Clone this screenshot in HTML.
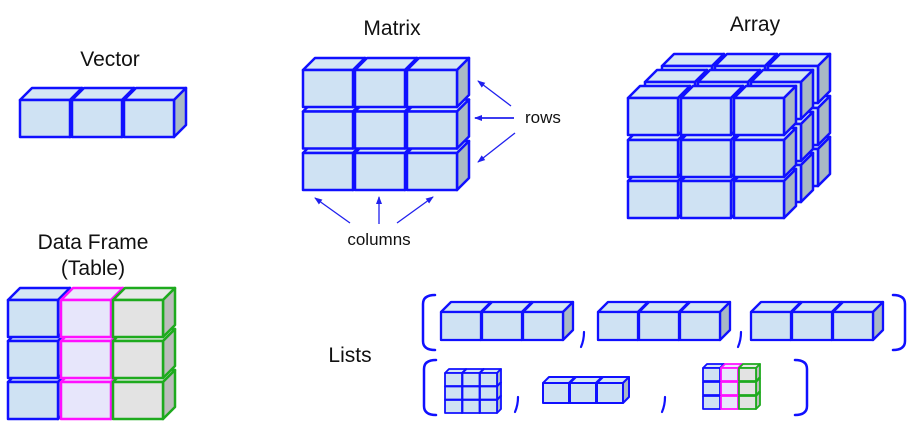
<!DOCTYPE html>
<html><head><meta charset="utf-8"><style>
html,body{margin:0;padding:0;background:#fff;}
svg{display:block;}
text{font-family:"Liberation Sans",Arial,sans-serif;fill:#111;}
</style></head><body>
<svg width="918" height="433" viewBox="0 0 918 433" xmlns="http://www.w3.org/2000/svg">
<defs>
<marker id="ah" markerWidth="8" markerHeight="8" refX="7" refY="4" orient="auto" markerUnits="userSpaceOnUse">
<path d="M0,1 L8,4 L0,7 Z" fill="#2020ee"/>
</marker>
<g id="bb" stroke="#1010ff" stroke-width="2.5" stroke-linejoin="round">
<polygon points="0,0 12,-12 62,-12 50,0" fill="#d5e7f5"/>
<polygon points="50,0 62,-12 62,25 50,37" fill="#a9b9c5"/>
<rect x="0" y="0" width="50" height="37" fill="#cfe2f3"/>
</g>
<g id="bm" stroke="#ff10ff" stroke-width="2.5" stroke-linejoin="round">
<polygon points="0,0 12,-12 62,-12 50,0" fill="#ebeafc"/>
<polygon points="50,0 62,-12 62,25 50,37" fill="#c8c8e0"/>
<rect x="0" y="0" width="50" height="37" fill="#e7e6fb"/>
</g>
<g id="bg" stroke="#1eaa1e" stroke-width="2.5" stroke-linejoin="round">
<polygon points="0,0 12,-12 62,-12 50,0" fill="#e8e8e8"/>
<polygon points="50,0 62,-12 62,25 50,37" fill="#bcbcbc"/>
<rect x="0" y="0" width="50" height="37" fill="#e3e3e3"/>
</g>
<g id="lb" stroke="#1010ff" stroke-width="2.3" stroke-linejoin="round">
<polygon points="0,0 10,-10 50,-10 40,0" fill="#d5e7f5"/>
<polygon points="40,0 50,-10 50,18 40,28" fill="#a9b9c5"/>
<rect x="0" y="0" width="40" height="28" fill="#cfe2f3"/>
</g>
<g id="sb" stroke="#1010ff" stroke-width="2" stroke-linejoin="round">
<polygon points="0,0 6,-6 32,-6 26,0" fill="#d5e7f5"/>
<polygon points="26,0 32,-6 32,14 26,20" fill="#a9b9c5"/>
<rect x="0" y="0" width="26" height="20" fill="#cfe2f3"/>
</g>
<g id="tb" stroke="#1010ff" stroke-width="1.8" stroke-linejoin="round">
<polygon points="0,0 4,-4 21,-4 17,0" fill="#d5e7f5"/>
<polygon points="17,0 21,-4 21,9 17,13" fill="#a9b9c5"/>
<rect x="0" y="0" width="17" height="13" fill="#cfe2f3"/>
</g>
<g id="tm" stroke="#ff10ff" stroke-width="1.8" stroke-linejoin="round">
<polygon points="0,0 4,-4 21,-4 17,0" fill="#ebeafc"/>
<polygon points="17,0 21,-4 21,9 17,13" fill="#c8c8e0"/>
<rect x="0" y="0" width="17" height="13" fill="#e7e6fb"/>
</g>
<g id="tg" stroke="#1eaa1e" stroke-width="1.8" stroke-linejoin="round">
<polygon points="0,0 4,-4 21,-4 17,0" fill="#e8e8e8"/>
<polygon points="17,0 21,-4 21,9 17,13" fill="#bcbcbc"/>
<rect x="0" y="0" width="17" height="13" fill="#e3e3e3"/>
</g>
</defs>

<!-- Titles -->
<text x="110" y="66" font-size="21" text-anchor="middle">Vector</text>
<text x="392" y="35" font-size="21" text-anchor="middle">Matrix</text>
<text x="755" y="31" font-size="21" text-anchor="middle">Array</text>
<text x="93" y="249" font-size="21" text-anchor="middle">Data Frame</text>
<text x="93" y="275" font-size="21" text-anchor="middle">(Table)</text>
<text x="350" y="362" font-size="21" text-anchor="middle">Lists</text>
<text x="525" y="123" font-size="17">rows</text>
<text x="379" y="245" font-size="17" text-anchor="middle">columns</text>

<!-- Vector -->
<use href="#bb" x="20" y="100"/>
<use href="#bb" x="72" y="100"/>
<use href="#bb" x="124" y="100"/>

<!-- Matrix -->
<use href="#bb" x="303" y="153"/><use href="#bb" x="355" y="153"/><use href="#bb" x="407" y="153"/>
<use href="#bb" x="303" y="111.5"/><use href="#bb" x="355" y="111.5"/><use href="#bb" x="407" y="111.5"/>
<use href="#bb" x="303" y="70"/><use href="#bb" x="355" y="70"/><use href="#bb" x="407" y="70"/>

<!-- arrows -->
<g stroke="#2020ee" stroke-width="1.3" fill="none" marker-end="url(#ah)">
<line x1="511" y1="106" x2="478" y2="81"/>
<line x1="514" y1="118" x2="475" y2="118" stroke-width="1.8"/>
<line x1="515" y1="133" x2="478" y2="162"/>
<line x1="350" y1="223" x2="315" y2="198"/>
<line x1="379" y1="224" x2="379" y2="197"/>
<line x1="397" y1="223" x2="433" y2="197"/>
</g>

<!-- Array back layer -->
<use href="#bb" x="662" y="149"/><use href="#bb" x="715" y="149"/><use href="#bb" x="768" y="149"/>
<use href="#bb" x="662" y="108"/><use href="#bb" x="715" y="108"/><use href="#bb" x="768" y="108"/>
<use href="#bb" x="662" y="66"/><use href="#bb" x="715" y="66"/><use href="#bb" x="768" y="66"/>
<!-- mid layer -->
<use href="#bb" x="645" y="165"/><use href="#bb" x="698" y="165"/><use href="#bb" x="751" y="165"/>
<use href="#bb" x="645" y="124"/><use href="#bb" x="698" y="124"/><use href="#bb" x="751" y="124"/>
<use href="#bb" x="645" y="82"/><use href="#bb" x="698" y="82"/><use href="#bb" x="751" y="82"/>
<!-- front layer -->
<use href="#bb" x="628" y="181"/><use href="#bb" x="681" y="181"/><use href="#bb" x="734" y="181"/>
<use href="#bb" x="628" y="140"/><use href="#bb" x="681" y="140"/><use href="#bb" x="734" y="140"/>
<use href="#bb" x="628" y="98"/><use href="#bb" x="681" y="98"/><use href="#bb" x="734" y="98"/>

<!-- Data frame -->
<use href="#bb" x="8" y="382"/><use href="#bm" x="61" y="382"/><use href="#bg" x="113" y="382"/>
<use href="#bb" x="8" y="341"/><use href="#bm" x="61" y="341"/><use href="#bg" x="113" y="341"/>
<use href="#bb" x="8" y="300"/><use href="#bm" x="61" y="300"/><use href="#bg" x="113" y="300"/>

<!-- Lists brackets & commas -->
<g stroke="#1010ff" stroke-width="2.5" fill="none" stroke-linecap="round">
<path d="M435 295 Q423 295 423 304 L423 341 Q423 350 435 350"/>
<path d="M893 295 Q905 295 905 304 L905 341 Q905 350 893 350"/>
<path d="M436 360 Q424 360 424 369 L424 406 Q424 415 436 415"/>
<path d="M795 360 Q807 360 807 369 L807 406 Q807 415 795 415"/>
<path d="M584 332 Q584 340 581 347" stroke-width="2.2"/>
<path d="M741 332 Q741 340 738 347" stroke-width="2.2"/>
<path d="M518 397 Q518 405 515 412" stroke-width="2.2"/>
<path d="M665 397 Q665 405 662 412" stroke-width="2.2"/>
</g>

<!-- List row 1 vectors -->
<use href="#lb" x="441" y="312"/><use href="#lb" x="482" y="312"/><use href="#lb" x="523" y="312"/>
<use href="#lb" x="598" y="312"/><use href="#lb" x="639" y="312"/><use href="#lb" x="680" y="312"/>
<use href="#lb" x="751" y="312"/><use href="#lb" x="792" y="312"/><use href="#lb" x="833" y="312"/>

<!-- List row 2: tiny matrix -->
<use href="#tb" x="445" y="400"/><use href="#tb" x="462.5" y="400"/><use href="#tb" x="480" y="400"/>
<use href="#tb" x="445" y="386.5"/><use href="#tb" x="462.5" y="386.5"/><use href="#tb" x="480" y="386.5"/>
<use href="#tb" x="445" y="373"/><use href="#tb" x="462.5" y="373"/><use href="#tb" x="480" y="373"/>

<!-- small vector -->
<use href="#sb" x="543" y="383"/><use href="#sb" x="570" y="383"/><use href="#sb" x="597" y="383"/>

<!-- tiny data frame -->
<use href="#tb" x="703" y="396"/><use href="#tm" x="721" y="396"/><use href="#tg" x="739" y="396"/>
<use href="#tb" x="703" y="382"/><use href="#tm" x="721" y="382"/><use href="#tg" x="739" y="382"/>
<use href="#tb" x="703" y="368"/><use href="#tm" x="721" y="368"/><use href="#tg" x="739" y="368"/>
</svg>
</body></html>
